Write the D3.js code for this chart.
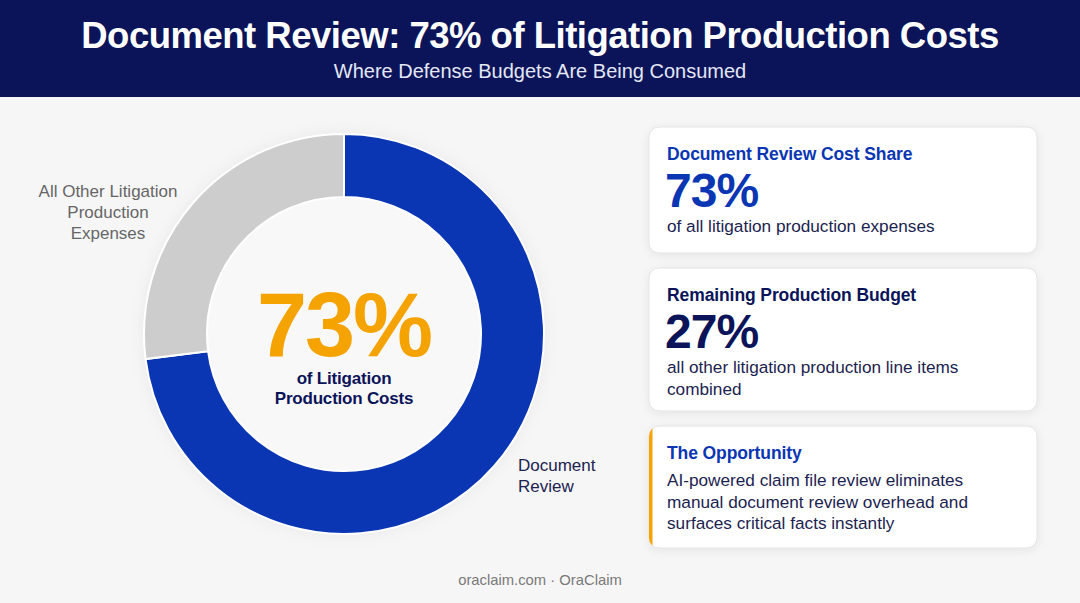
<!DOCTYPE html>
<html>
<head>
<meta charset="utf-8">
<script src="https://cdn.jsdelivr.net/npm/d3@7"></script>
<style>
  html, body { margin: 0; padding: 0; background: #f6f6f6; }
  svg { display: block; }
</style>
</head>
<body>
<div id="chart"></div>
<script>
// Chart data
var segments = ['Document Review', 'All Other Litigation Production Expenses'];
var shares = [73, 27];
var segmentLabels = [['Document', 'Review'], ['All Other Litigation', 'Production', 'Expenses']];
var titleText = 'Document Review: 73% of Litigation Production Costs';
var subtitleText = 'Where Defense Budgets Are Being Consumed';
var centerValue = '73%';
var centerCaption = ['of Litigation', 'Production Costs'];
var cardHeads = ['Document Review Cost Share', 'Remaining Production Budget', 'The Opportunity'];
var cardValues = ['73%', '27%', null];
var cardBodies = [
  ['of all litigation production expenses'],
  ['all other litigation production line items', 'combined'],
  ['AI-powered claim file review eliminates', 'manual document review overhead and', 'surfaces critical facts instantly']
];
var footerText = 'oraclaim.com \u00b7 OraClaim';

var W = 1080, H = 603;
var FONT = '"Liberation Sans", Arial, sans-serif';
var NAVY = '#0b1459', BLUE = '#0a36b4', GRAY = '#cdcdcd', ORANGE = '#f5a300';

var svg = d3.select('#chart').append('svg')
  .attr('width', W).attr('height', H)
  .style('font-family', FONT);

var defs = svg.append('defs');
var shadow = defs.append('filter').attr('id', 'shadow')
  .attr('x', '-10%').attr('y', '-20%').attr('width', '120%').attr('height', '140%');
shadow.append('feDropShadow').attr('dx', 0).attr('dy', 2).attr('stdDeviation', 5)
  .attr('flood-color', '#000').attr('flood-opacity', 0.07);
var glow = defs.append('filter').attr('id', 'glow')
  .attr('x', '-20%').attr('y', '-20%').attr('width', '140%').attr('height', '140%');
glow.append('feDropShadow').attr('dx', 0).attr('dy', 0).attr('stdDeviation', 8)
  .attr('flood-color', '#000').attr('flood-opacity', 0.06);

svg.append('rect').attr('width', W).attr('height', H).attr('fill', '#f6f6f6');

// Header
svg.append('rect').attr('width', W).attr('height', 97).attr('fill', NAVY);
svg.append('text').attr('x', W / 2).attr('y', 48).attr('text-anchor', 'middle')
  .attr('fill', '#fff').attr('font-size', 36.5).attr('font-weight', 700)
  .attr('letter-spacing', -0.5).text(titleText);
svg.append('text').attr('x', W / 2).attr('y', 78).attr('text-anchor', 'middle')
  .attr('fill', '#e3e7f6').attr('font-size', 20).text(subtitleText);

// Donut
var cx = 344, cy = 334, outerR = 200, innerR = 137;
var pie = d3.pie().sort(null).value(function(d) { return d; });
var arc = d3.arc().innerRadius(innerR).outerRadius(outerR);
var g = svg.append('g').attr('transform', 'translate(' + cx + ',' + cy + ')');

g.append('circle').attr('r', outerR).attr('fill', '#fff').attr('filter', 'url(#glow)');
g.selectAll('path.slice').data(pie(shares)).enter().append('path')
  .attr('class', 'slice')
  .attr('d', arc)
  .attr('fill', function(d, i) { return i === 0 ? BLUE : GRAY; })
  .attr('stroke', '#fff').attr('stroke-width', 2);
g.append('circle').attr('r', innerR - 1).attr('fill', '#f8f8f8');

// Center text
g.append('text').attr('y', 22).attr('text-anchor', 'middle')
  .attr('fill', ORANGE).attr('font-size', 90).attr('font-weight', 700)
  .attr('letter-spacing', -2).text(centerValue);
g.append('text').attr('text-anchor', 'middle').attr('fill', NAVY)
  .attr('font-size', 17).attr('font-weight', 700).attr('letter-spacing', -0.2)
  .selectAll('tspan').data(centerCaption).enter().append('tspan')
  .attr('x', 0).attr('y', function(d, i) { return 50 + i * 20; })
  .text(function(d) { return d; });

// Outside labels
var labelPos = [{x: 518, y: 471, anchor: 'start', color: '#1c2350'},
                {x: 108, y: 197, anchor: 'middle', color: '#666'}];
segmentLabels.forEach(function(lines, i) {
  var p = labelPos[i];
  svg.append('text').attr('text-anchor', p.anchor).attr('fill', p.color)
    .attr('font-size', 17)
    .selectAll('tspan').data(lines).enter().append('tspan')
    .attr('x', p.x).attr('y', function(d, j) { return p.y + j * 21; })
    .text(function(d) { return d; });
});

// Cards
var cardBoxes = [{y: 127, h: 126}, {y: 268, h: 143}, {y: 426, h: 122}];
var headColors = [BLUE, NAVY, BLUE];
var valueColors = [BLUE, NAVY, null];
var cardX = 649, cardW = 388;
cardBoxes.forEach(function(b, i) {
  var cg = svg.append('g').attr('transform', 'translate(' + cardX + ',' + b.y + ')');
  if (i === 2) {
    cg.append('clipPath').attr('id', 'clip3').append('rect')
      .attr('width', cardW).attr('height', b.h).attr('rx', 10);
  }
  cg.append('rect').attr('width', cardW).attr('height', b.h).attr('rx', 10)
    .attr('fill', '#fff').attr('stroke', '#e3e3e3').attr('stroke-width', 1)
    .attr('filter', 'url(#shadow)');
  if (i === 2) {
    cg.append('rect').attr('width', 3.5).attr('height', b.h)
      .attr('fill', ORANGE).attr('clip-path', 'url(#clip3)');
  }
  cg.append('text').attr('x', 18).attr('y', 33).attr('fill', headColors[i])
    .attr('font-size', 17.5).attr('font-weight', 700).attr('letter-spacing', -0.1)
    .text(cardHeads[i]);
  var by = 60;
  if (cardValues[i]) {
    cg.append('text').attr('x', 16).attr('y', 80).attr('fill', valueColors[i])
      .attr('font-size', 48).attr('font-weight', 700).attr('letter-spacing', -1)
      .text(cardValues[i]);
    by = 105;
  }
  cg.append('text').attr('fill', '#1c2350').attr('font-size', 17.2)
    .selectAll('tspan').data(cardBodies[i]).enter().append('tspan')
    .attr('x', 18).attr('y', function(d, j) { return by + j * 21.5; })
    .text(function(d) { return d; });
});

// Footer
svg.append('text').attr('x', W / 2).attr('y', 585).attr('text-anchor', 'middle')
  .attr('fill', '#7a7a7a').attr('font-size', 14.8).text(footerText);
</script>
</body>
</html>
